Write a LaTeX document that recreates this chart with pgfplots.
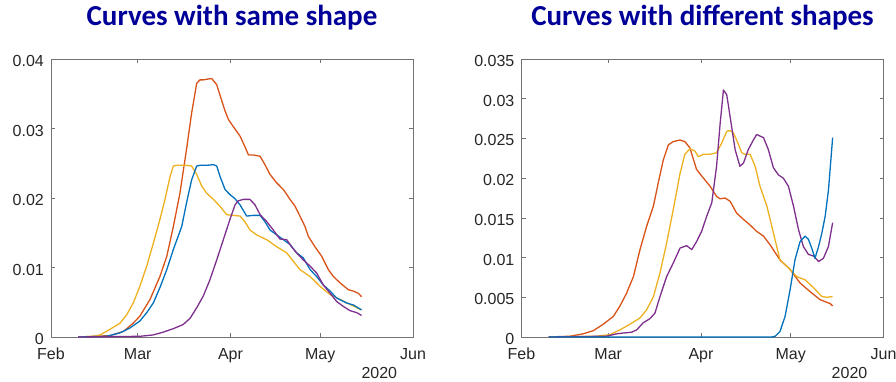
\documentclass[border=0pt]{standalone}
\usepackage{fontspec}
\setmainfont{Liberation Sans}
\newfontfamily\titlefont{Carlito}
\usepackage{pgfplots}
\pgfplotsset{compat=1.18}
\definecolor{mblue}{rgb}{0,0.447,0.741}
\definecolor{morange}{rgb}{0.85,0.325,0.098}
\definecolor{myellow}{rgb}{0.929,0.694,0.125}
\definecolor{mpurple}{rgb}{0.494,0.184,0.556}
\definecolor{ttl}{rgb}{0,0,0.6}
\pgfplotsset{
  mstyle/.style={
    scale only axis, width=362pt, height=278pt,
    xmin=0, xmax=121, ymin=0,
    xtick={0,29,60,90,121},
    xticklabels={Feb,Mar,Apr,May,Jun},
    tick align=inside, major tick length=4pt,
    axis line style={black!55, line width=0.6pt},
    tick style={black!55, line width=0.6pt},
    every tick label/.append style={font=\fontsize{16}{19}\selectfont, text=black!85},
    /pgf/number format/assume math mode=true,
    xticklabel style={anchor=base, inner sep=0pt, yshift=-22.3pt},
    yticklabel style={anchor=east, inner sep=0pt, xshift=-7pt, yshift=-2pt},
    scaled y ticks=false,
    yticklabel style={/pgf/number format/fixed, /pgf/number format/precision=3},
    title style={at={(0.5,1)}, anchor=base, yshift=27.3pt, font=\titlefont\bfseries\fontsize{29}{34}\selectfont, text=ttl},
    every axis plot/.append style={line width=1.3pt, line join=round},
    clip=false,
  }
}
\begin{document}
\begin{tikzpicture}
\useasboundingbox (0,0) rectangle (896pt,381pt);
\begin{axis}[mstyle, at={(51pt,44pt)}, anchor=south west, ymax=0.04,
  ytick={0,0.01,0.02,0.03,0.04}, yticklabels={0,0.01,0.02,0.03,0.04},
  title={Curves with same shape}]
\addplot[morange] coordinates {(9.1,0) (19.7,0.0002) (24.2,0.0008) (27.5,0.0020) (29.7,0.0030) (33.1,0.0054) (36.4,0.0087) (38.7,0.0116) (40.9,0.0159) (43.1,0.0207) (45.3,0.0270) (47.0,0.0322) (48.7,0.0365) (49.8,0.0370) (50.9,0.0370) (53.7,0.0372) (55.4,0.0363) (57.0,0.0341) (58.2,0.0325) (59.3,0.0313) (60.9,0.0303) (63.2,0.0289) (64.8,0.0274) (66.0,0.0262) (67.6,0.0262) (69.9,0.0260) (71.5,0.0248) (73.2,0.0234) (75.4,0.0222) (77.7,0.0212) (79.9,0.0198) (81.6,0.0188) (83.2,0.0174) (84.9,0.0159) (86.0,0.0145) (88.2,0.0130) (90.5,0.0116) (92.7,0.0097) (94.4,0.0087) (96.6,0.0078) (99.4,0.0068) (101.1,0.0066) (102.7,0.0063) (103.8,0.0058)};
\addplot[myellow] coordinates {(9.1,0) (14.2,0.0001) (16.4,0.0003) (19.7,0.0011) (23.1,0.0020) (25.3,0.0032) (27.5,0.0049) (29.7,0.0073) (32.0,0.0102) (34.2,0.0135) (36.4,0.0169) (38.1,0.0198) (39.8,0.0231) (40.9,0.0246) (42.0,0.0247) (45.3,0.0247) (47.0,0.0246) (48.7,0.0234) (50.4,0.0217) (52.0,0.0207) (54.3,0.0198) (56.5,0.0188) (58.7,0.0176) (60.9,0.0175) (63.2,0.0174) (64.8,0.0166) (66.5,0.0154) (68.7,0.0147) (72.1,0.0140) (75.4,0.0130) (78.8,0.0121) (81.0,0.0109) (83.2,0.0097) (86.6,0.0087) (89.9,0.0073) (93.3,0.0061) (96.6,0.0054) (99.9,0.0047) (103.8,0.0039)};
\addplot[mblue] coordinates {(9.1,0) (18.6,0.0001) (23.1,0.0006) (26.4,0.0013) (29.7,0.0023) (32.0,0.0035) (34.2,0.0049) (36.4,0.0071) (38.7,0.0097) (40.9,0.0126) (43.7,0.0159) (45.3,0.0193) (47.0,0.0226) (48.7,0.0246) (49.8,0.0247) (52.0,0.0247) (54.3,0.0248) (55.4,0.0246) (56.5,0.0231) (58.2,0.0212) (59.8,0.0205) (61.5,0.0199) (63.2,0.0190) (65.4,0.0174) (67.6,0.0175) (69.9,0.0175) (71.5,0.0166) (73.2,0.0154) (75.4,0.0147) (77.7,0.0140) (79.9,0.0133) (82.1,0.0121) (84.3,0.0114) (86.6,0.0097) (88.8,0.0087) (91.0,0.0075) (93.3,0.0066) (95.5,0.0056) (98.8,0.0049) (101.1,0.0046) (103.8,0.0039)};
\addplot[mpurple] coordinates {(9.1,0) (29.7,0.0001) (34.2,0.0003) (37.5,0.0007) (40.9,0.0012) (44.2,0.0018) (46.5,0.0027) (48.7,0.0042) (50.9,0.0059) (53.1,0.0082) (55.4,0.0111) (57.6,0.0140) (59.8,0.0169) (61.5,0.0190) (62.6,0.0196) (64.3,0.0198) (66.5,0.0198) (68.2,0.0190) (69.9,0.0176) (72.1,0.0166) (74.3,0.0154) (76.5,0.0141) (78.8,0.0140) (80.4,0.0130) (82.1,0.0121) (84.3,0.0111) (86.6,0.0102) (88.8,0.0092) (91.0,0.0075) (93.3,0.0063) (95.5,0.0051) (97.7,0.0044) (99.9,0.0038) (102.2,0.0035) (103.8,0.0031)};
\node[anchor=base east, font=\fontsize{16}{19}\selectfont, text=black!85, inner sep=0pt] at (rel axis cs:1,0) [xshift=-15.7pt, yshift=-41.8pt] {2020};
\end{axis}
\begin{axis}[mstyle, at={(521.5pt,44pt)}, anchor=south west, ymax=0.035,
  ytick={0,0.005,0.01,0.015,0.02,0.025,0.03,0.035}, yticklabels={0,0.005,0.01,0.015,0.02,0.025,0.03,0.035},
  title={Curves with different shapes}]
\addplot[morange] coordinates {(9.1,0) (16.2,0.0001) (20.6,0.0004) (24.0,0.0008) (27.3,0.0016) (30.7,0.0026) (32.9,0.0039) (35.1,0.0055) (37.4,0.0076) (39.6,0.0110) (41.8,0.0139) (44.1,0.0165) (45.7,0.0194) (47.4,0.0223) (49.1,0.0242) (50.7,0.0246) (53.0,0.0248) (54.6,0.0246) (56.3,0.0238) (58.5,0.0211) (60.8,0.0200) (63.0,0.0190) (65.2,0.0177) (66.4,0.0174) (68.0,0.0175) (69.7,0.0171) (71.9,0.0156) (74.2,0.0148) (76.4,0.0141) (78.6,0.0133) (80.9,0.0127) (83.1,0.0116) (86.4,0.0097) (89.8,0.0085) (93.1,0.0068) (96.5,0.0057) (99.8,0.0047) (103.2,0.0042) (104.0,0.0039)};
\addplot[myellow] coordinates {(9.1,0) (25.1,0.0001) (29.6,0.0003) (32.9,0.0009) (36.2,0.0016) (39.6,0.0024) (41.8,0.0034) (44.1,0.0051) (46.3,0.0081) (48.5,0.0118) (50.7,0.0160) (53.0,0.0206) (54.6,0.0230) (56.3,0.0237) (58.0,0.0234) (59.1,0.0227) (60.8,0.0230) (63.0,0.0230) (65.2,0.0232) (66.9,0.0244) (68.6,0.0259) (69.7,0.0260) (70.8,0.0257) (71.9,0.0248) (73.6,0.0232) (74.7,0.0230) (76.4,0.0230) (78.1,0.0215) (79.7,0.0190) (82.0,0.0165) (84.2,0.0131) (86.4,0.0097) (88.7,0.0089) (92.0,0.0076) (94.8,0.0072) (97.6,0.0062) (100.4,0.0051) (102.0,0.0050) (104.0,0.0051)};
\addplot[mpurple] coordinates {(9.1,0) (28.4,0.0001) (31.8,0.0004) (34.0,0.0005) (36.8,0.0006) (38.5,0.0009) (40.7,0.0018) (42.9,0.0023) (44.6,0.0030) (46.3,0.0051) (48.5,0.0076) (50.7,0.0093) (53.0,0.0112) (55.2,0.0115) (56.9,0.0110) (58.5,0.0120) (60.2,0.0133) (61.9,0.0152) (63.6,0.0169) (65.2,0.0215) (66.4,0.0269) (67.5,0.0311) (68.6,0.0305) (69.7,0.0278) (71.4,0.0236) (73.0,0.0215) (74.2,0.0219) (75.8,0.0236) (77.5,0.0248) (78.6,0.0255) (79.7,0.0253) (80.9,0.0251) (82.5,0.0236) (84.2,0.0213) (85.9,0.0204) (87.5,0.0200) (89.2,0.0190) (90.9,0.0165) (92.6,0.0135) (94.2,0.0114) (95.9,0.0104) (97.6,0.0102) (99.3,0.0095) (100.9,0.0099) (102.6,0.0114) (104.0,0.0144)};
\addplot[mblue] coordinates {(9.1,0) (83.6,0) (84.8,0.0001) (86.4,0.0007) (88.1,0.0026) (89.8,0.0060) (91.4,0.0097) (93.1,0.0120) (94.8,0.0127) (95.9,0.0123) (97.0,0.0112) (98.1,0.0099) (99.3,0.0114) (100.4,0.0131) (101.5,0.0152) (102.6,0.0185) (104.0,0.0251)};
\node[anchor=base east, font=\fontsize{16}{19}\selectfont, text=black!85, inner sep=0pt] at (rel axis cs:1,0) [xshift=-16pt, yshift=-41.8pt] {2020};
\end{axis}
\end{tikzpicture}
\end{document}
